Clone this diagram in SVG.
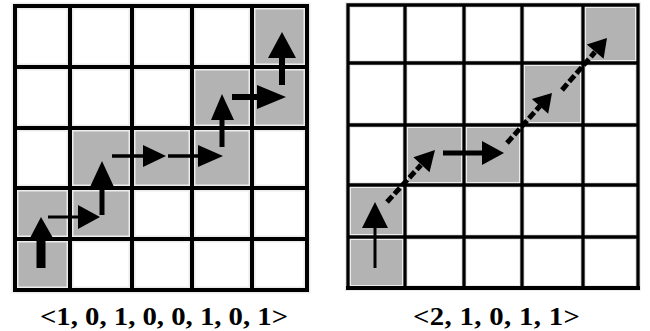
<svg xmlns="http://www.w3.org/2000/svg" width="650" height="331" viewBox="0 0 650 331">
  <style>
    .bg{fill:#ffffff}
    .cell{fill:#b3b3b3}
    .halo{stroke:#ececec;fill:none;stroke-linecap:square}
    .gl{stroke:#000000;fill:none;stroke-linecap:square}
    .shaft{stroke:#000000;fill:none}
    .dash{stroke:#000000;fill:none;stroke-dasharray:8 3}
    .head{fill:#000000}
    .lbl{font-family:"Liberation Serif","Times New Roman",serif;font-weight:bold;font-size:25px;fill:#000000}
  </style>
  <rect class="bg" x="0" y="0" width="650" height="331"/>

  <!-- Left grid -->
  <g id="grid-left">
    <g id="left-shaded">
      <rect class="cell" x="252" y="6" width="55" height="61"/>
      <rect class="cell" x="192" y="67" width="60" height="61"/>
      <rect class="cell" x="252" y="67" width="55" height="61"/>
      <rect class="cell" x="70" y="128" width="62" height="60"/>
      <rect class="cell" x="132" y="128" width="60" height="60"/>
      <rect class="cell" x="192" y="128" width="60" height="60"/>
      <rect class="cell" x="15" y="188" width="55" height="51"/>
      <rect class="cell" x="70" y="188" width="62" height="51"/>
      <rect class="cell" x="15" y="239" width="55" height="51"/>
    </g>
    <path class="halo" stroke-width="7" d="M15 6V290M70 6V290M132 6V290M192 6V290M252 6V290M307 6V290M15 6H307M15 67H307M15 128H307M15 188H307M15 239H307M15 290H307"/>
    <path class="gl" stroke-width="4" d="M15 6V290M70 6V290M132 6V290M192 6V290M252 6V290M307 6V290M15 6H307M15 67H307M15 128H307M15 188H307M15 239H307M15 290H307"/>
  </g>

  <!-- Right grid -->
  <g id="grid-right">
    <g id="right-shaded">
      <rect class="cell" x="583" y="5" width="55" height="58"/>
      <rect class="cell" x="522" y="63" width="61" height="62"/>
      <rect class="cell" x="405" y="125" width="59" height="60"/>
      <rect class="cell" x="464" y="125" width="58" height="60"/>
      <rect class="cell" x="348" y="185" width="57" height="52"/>
      <rect class="cell" x="348" y="237" width="57" height="51"/>
    </g>
    <path class="halo" stroke-width="6" d="M348 5V288M405 5V288M464 5V288M522 5V288M583 5V288M638 5V288M348 5H638M348 63H638M348 125H638M348 185H638M348 237H638M348 288H638"/>
    <path class="gl" stroke-width="3.3" d="M348 5V288M405 5V288M464 5V288M522 5V288M583 5V288M638 5V288M348 5H638M348 63H638M348 125H638M348 185H638M348 237H638"/>
    <path class="gl" stroke-width="4" d="M348 288H638"/>
  </g>

  <!-- Connectors -->
  <g id="connectors">
    <!-- left path -->
    <g id="left-arrows">
      <path class="shaft" stroke-width="9" d="M41 268V236"/>
      <polygon class="head" points="30,238 53,238 41,217"/>
      <path class="shaft" stroke-width="3" d="M48 217H80"/>
      <polygon class="head" points="78,205 78,229 100,217"/>
      <path class="shaft" stroke-width="5" d="M102 215V185"/>
      <polygon class="head" points="90,187 114,187 102,161"/>
      <path class="shaft" stroke-width="3.5" d="M112 156H145"/>
      <polygon class="head" points="143,145 143,167 166,156"/>
      <path class="shaft" stroke-width="3.5" d="M168 156H200"/>
      <polygon class="head" points="198,145 198,167 223,156"/>
      <path class="shaft" stroke-width="5" d="M222 147V118"/>
      <polygon class="head" points="211,120 234,120 222,94"/>
      <path class="shaft" stroke-width="6" d="M232 97H259"/>
      <polygon class="head" points="257,85 257,109 286,97"/>
      <path class="shaft" stroke-width="6" d="M282 85V56"/>
      <polygon class="head" points="268,58 296,58 282,32"/>
    </g>
    <!-- right path -->
    <g id="right-arrows">
      <path class="shaft" stroke-width="3" d="M375 268V226"/>
      <polygon class="head" points="362,228 388,228 375,202"/>
      <path class="dash" stroke-width="5" d="M387 202L421 165"/>
      <polygon class="head" points="429.5,172.2 413.4,157.2 435,150"/>
      <path class="shaft" stroke-width="5" d="M443 153H484"/>
      <polygon class="head" points="482,141 482,165 504,153"/>
      <path class="dash" stroke-width="5" d="M507 143L540 106"/>
      <polygon class="head" points="548.2,113.8 531.8,99.0 552,93"/>
      <path class="dash" stroke-width="5" d="M562 90L595 52"/>
      <polygon class="head" points="603.6,58.8 586.8,44.4 607,38"/>
    </g>
  </g>

  <g id="labels">
    <text class="lbl" transform="translate(40,325) scale(1.15,1)" x="0" y="0" textLength="215.7" lengthAdjust="spacing">&lt;1, 0, 1, 0, 0, 1, 0, 1&gt;</text>
    <text class="lbl" transform="translate(413,325) scale(1.15,1)" x="0" y="0" textLength="145.2" lengthAdjust="spacing">&lt;2, 1, 0, 1, 1&gt;</text>
  </g>
</svg>
